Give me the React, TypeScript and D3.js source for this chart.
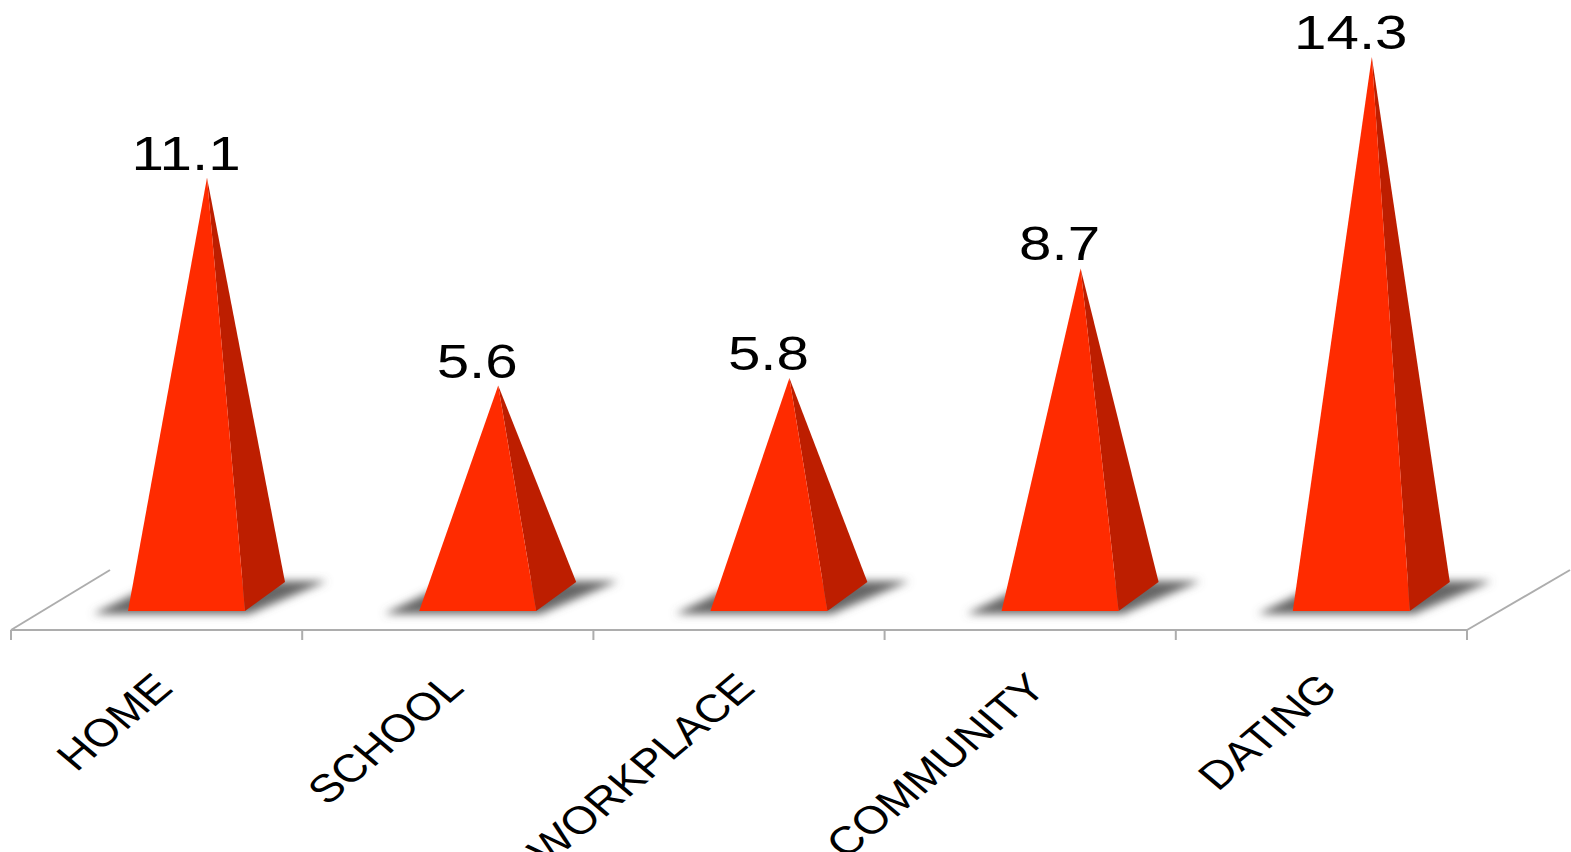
import React from "react";
import * as d3 from "d3";

const categories = ["HOME", "SCHOOL", "WORKPLACE", "COMMUNITY", "DATING"];
const values = [11.1, 5.6, 5.8, 8.7, 14.3];
const valueLabels = ["11.1", "5.6", "5.8", "8.7", "14.3"];

const W = 1571, H = 852;
const x = d3.scaleBand<string>().domain(categories).range([11, 1467]);
const y = d3.scaleLinear().domain([0, 14.3]).range([597, 57]);
const line = d3.line();
const poly = (p: [number, number][]) => line(p) + "Z";

const FRONT_Y = 611, BACK_Y = 582, AXIS_Y = 630, TICK_Y = 640;
const SX = 1.19;

export default function App() {
  const bw = x.bandwidth();
  const ticks = [...categories.map((c) => x(c)!), 1467];
  return (
    <svg width={W} height={H} style={{ position: "absolute", left: 0, top: 0, background: "#fff" }}>
      <defs>
        <filter id="blur" x="-30%" y="-80%" width="160%" height="260%">
          <feGaussianBlur stdDeviation="4.5" />
        </filter>
      </defs>
      <g stroke="#adadad" strokeWidth={2} fill="none">
        <path d={line([[11, AXIS_Y], [1467, AXIS_Y]])!} />
        <path d={line([[11, AXIS_Y], [110, 570]])!} />
        <path d={line([[1467, AXIS_Y], [1570, 570]])!} />
        {ticks.map((t, i) => (
          <path key={i} d={line([[t, AXIS_Y], [t, TICK_Y]])!} />
        ))}
      </g>
      {categories.map((c, i) => {
        const x0 = x(c)!;
        const fl = x0 + 117, fr = x0 + 234, br = x0 + 274, ax = x0 + 196;
        const top = y(values[i]);
        return (
          <g key={c}>
            <path
              d={poly([[x0 + 82, FRONT_Y + 3], [fr + 4, FRONT_Y + 3], [br + 42, BACK_Y - 1], [x0 + 150, BACK_Y - 1]])}
              fill="#666"
              filter="url(#blur)"
            />
            <path d={poly([[ax, top], [fr, FRONT_Y], [br, BACK_Y]])} fill="#bd1e00" />
            <path d={poly([[ax, top], [fl, FRONT_Y], [fr, FRONT_Y]])} fill="#ff2b00" />
          </g>
        );
      })}
      {categories.map((c, i) => {
        const ax = x(c)! + 196;
        return (
          <text
            key={c}
            transform={`translate(${ax - 21},${y(values[i]) - 8}) scale(${SX},1)`}
            textAnchor="middle"
            fontFamily="'Liberation Sans', Arial, sans-serif"
            fontSize={49}
            fill="#000"
          >
            {valueLabels[i]}
          </text>
        );
      })}
      {categories.map((c) => (
        <text
          key={c}
          transform={`translate(${x(c)! + bw / 2 + 18},${690}) scale(${SX},1) rotate(-45)`}
          textAnchor="end"
          fontFamily="'Liberation Sans', Arial, sans-serif"
          fontSize={39}
          fill="#000"
        >
          {c}
        </text>
      ))}
    </svg>
  );
}
